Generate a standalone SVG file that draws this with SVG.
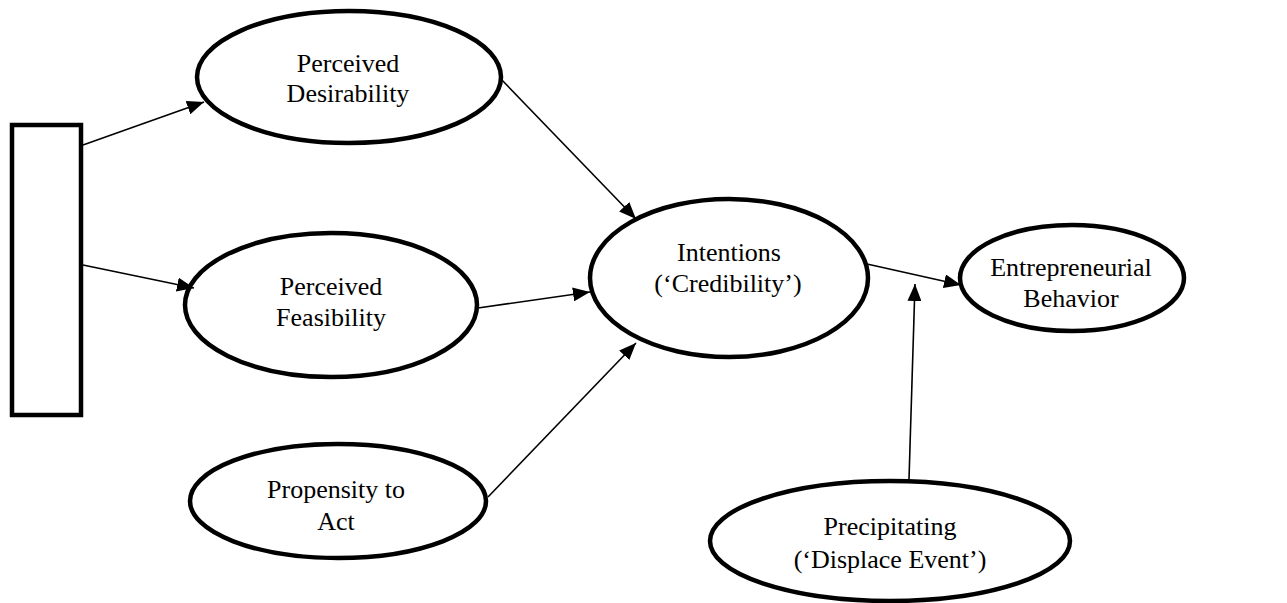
<svg xmlns="http://www.w3.org/2000/svg" width="1287" height="603" viewBox="0 0 1287 603">
  <style>
    .node { fill: #fff; stroke: #000; stroke-width: 4.5; }
    .lbl { font-family: "Liberation Serif", "Times New Roman", serif; font-size: 26px; fill: #000; text-anchor: middle; }
    .edge { stroke: #000; stroke-width: 1.6; fill: none; marker-end: url(#arr); }
  </style>
  <defs>
    <marker id="arr" markerUnits="userSpaceOnUse" markerWidth="18" markerHeight="14" refX="17" refY="7" orient="auto">
      <path d="M0,0 L17,7 L0,14 Z" fill="#000"/>
    </marker>
  </defs>
  <rect width="1287" height="603" fill="#fff"/>

  <g id="box">
    <rect x="12" y="125" width="69" height="290" fill="#fff" stroke="#000" stroke-width="4.5"/>
  </g>

  <g id="desirability">
    <ellipse class="node" cx="349" cy="77" rx="152" ry="66"/>
    <text class="lbl" x="348" y="72">Perceived</text>
    <text class="lbl" x="348" y="102">Desirability</text>
  </g>

  <g id="feasibility">
    <ellipse class="node" cx="331" cy="305" rx="146" ry="72"/>
    <text class="lbl" x="331" y="295">Perceived</text>
    <text class="lbl" x="331" y="326">Feasibility</text>
  </g>

  <g id="propensity">
    <ellipse class="node" cx="338" cy="501" rx="148" ry="57"/>
    <text class="lbl" x="336" y="498">Propensity to</text>
    <text class="lbl" x="336" y="530">Act</text>
  </g>

  <g id="intentions">
    <ellipse class="node" cx="729" cy="278" rx="139" ry="79"/>
    <text class="lbl" x="729" y="261">Intentions</text>
    <text class="lbl" x="728" y="292">(‘Credibility’)</text>
  </g>

  <g id="behavior">
    <ellipse class="node" cx="1072" cy="278" rx="112" ry="53"/>
    <text class="lbl" x="1071" y="276">Entrepreneurial</text>
    <text class="lbl" x="1071" y="307">Behavior</text>
  </g>

  <g id="precipitating">
    <ellipse class="node" cx="890" cy="541" rx="180" ry="60"/>
    <text class="lbl" x="890" y="535">Precipitating</text>
    <text class="lbl" x="890" y="568">(‘Displace Event’)</text>
  </g>

  <g id="connectors">
    <line class="edge" x1="83" y1="145" x2="204" y2="102"/>
    <line class="edge" x1="83" y1="265" x2="194" y2="288"/>
    <line class="edge" x1="500" y1="78" x2="636" y2="219"/>
    <line class="edge" x1="478" y1="308" x2="590" y2="292"/>
    <line class="edge" x1="488" y1="497" x2="636" y2="343"/>
    <line class="edge" x1="867" y1="264" x2="961" y2="285"/>
    <line class="edge" x1="909" y1="479" x2="915" y2="284"/>
  </g>
</svg>
